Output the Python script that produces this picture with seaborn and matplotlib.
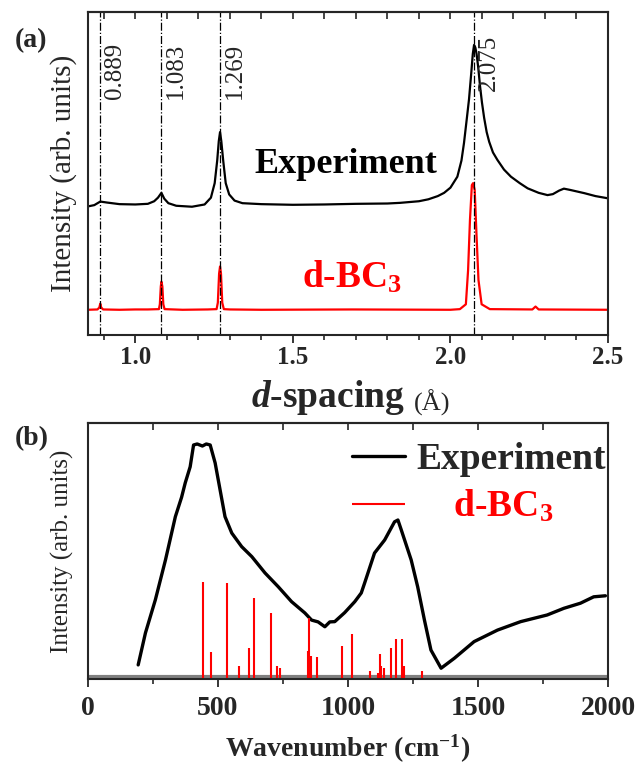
import matplotlib
matplotlib.use("Agg")
import matplotlib.pyplot as plt
from matplotlib.ticker import MultipleLocator, NullLocator
import seaborn as sns
import pandas as pd

# ---- panel (a): XRD, d-spacing ----
d_exp = [0.85, 0.87, 0.889, 0.91, 0.95, 1.0, 1.04, 1.06, 1.072, 1.083, 1.092, 1.105,
         1.13, 1.18, 1.22, 1.24, 1.252, 1.26, 1.265, 1.269, 1.273, 1.279, 1.287, 1.298,
         1.315, 1.34, 1.4, 1.5, 1.6, 1.7, 1.8, 1.84, 1.9, 1.93, 1.96, 1.98, 2.0, 2.022,
         2.035, 2.043, 2.052, 2.059, 2.066, 2.071, 2.075, 2.079, 2.083, 2.088, 2.094, 2.1,
         2.107, 2.115, 2.123, 2.135, 2.149, 2.17, 2.192, 2.22, 2.245, 2.28, 2.308, 2.325,
         2.345, 2.36, 2.38, 2.425, 2.46, 2.5]
i_exp = [0.398, 0.402, 0.413, 0.41, 0.405, 0.404, 0.406, 0.414, 0.425, 0.44, 0.422, 0.408,
         0.4, 0.397, 0.404, 0.425, 0.47, 0.54, 0.6, 0.628, 0.6, 0.54, 0.47, 0.435,
         0.416, 0.408, 0.405, 0.403, 0.404, 0.406, 0.407, 0.409, 0.414, 0.42, 0.43, 0.44,
         0.456, 0.49, 0.54, 0.594, 0.67, 0.73, 0.81, 0.87, 0.898, 0.89, 0.87, 0.83, 0.77,
         0.72, 0.672, 0.628, 0.598, 0.565, 0.542, 0.512, 0.49, 0.47, 0.454, 0.44, 0.433,
         0.436, 0.447, 0.453, 0.449, 0.439, 0.43, 0.423]

d_calc = [0.85, 0.88, 0.886, 0.889, 0.892, 0.898, 0.95, 1.0, 1.04, 1.075, 1.078, 1.081,
          1.083, 1.086, 1.089, 1.093, 1.15, 1.23, 1.258, 1.262, 1.266, 1.269, 1.272, 1.276,
          1.281, 1.3, 1.4, 1.69, 2.0, 2.03, 2.049, 2.056, 2.062, 2.068, 2.072, 2.077,
          2.083, 2.089, 2.099, 2.125, 2.26, 2.27, 2.28, 2.5]
i_calc = [0.078, 0.079, 0.085, 0.097, 0.085, 0.079, 0.078, 0.079, 0.079, 0.08, 0.095, 0.15,
          0.165, 0.15, 0.095, 0.08, 0.078, 0.079, 0.08, 0.1, 0.19, 0.212, 0.19, 0.1,
          0.08, 0.079, 0.078, 0.079, 0.078, 0.08, 0.095, 0.2, 0.356, 0.464, 0.47, 0.449,
          0.304, 0.17, 0.095, 0.08, 0.079, 0.088, 0.079, 0.078]

peak_marks = [0.889, 1.083, 1.269, 2.075]
peak_labels = ["0.889", "1.083", "1.269", "2.075"]

# ---- panel (b): IR, wavenumber ----
wn_exp = [193, 221, 259, 298, 336, 360, 374, 393, 406, 420, 440, 455, 470, 489, 527, 553,
          591, 630, 681, 732, 783, 834, 860, 885, 911, 930, 949, 987, 1026, 1051, 1064,
          1102, 1141, 1179, 1192, 1205, 1243, 1268, 1294, 1319, 1358, 1409, 1485, 1575,
          1664, 1766, 1830, 1894, 1945, 1990]
ir_exp = [0.055, 0.18, 0.309, 0.465, 0.634, 0.71, 0.766, 0.829, 0.914, 0.918, 0.91, 0.918,
          0.914, 0.844, 0.634, 0.57, 0.517, 0.478, 0.414, 0.36, 0.302, 0.258, 0.23, 0.223,
          0.204, 0.223, 0.224, 0.259, 0.302, 0.336, 0.375, 0.492, 0.543, 0.614, 0.621,
          0.582, 0.465, 0.36, 0.23, 0.113, 0.042, 0.081, 0.146, 0.191, 0.224, 0.25, 0.276,
          0.296, 0.321, 0.325]

wn_calc = [441, 473, 536, 582, 621, 639, 702, 728, 738, 847, 851, 856, 879, 977, 1015,
           1085, 1117, 1124, 1128, 1137, 1164, 1185, 1207, 1217, 1284]
ir_calc = [0.38, 0.104, 0.374, 0.052, 0.122, 0.315, 0.259, 0.052, 0.042, 0.11, 0.237, 0.09,
           0.087, 0.13, 0.175, 0.032, 0.023, 0.096, 0.05, 0.043, 0.12, 0.155, 0.155, 0.05,
           0.032]

sns.set_style("ticks")
plt.rcParams['font.family'] = ['Liberation Serif', 'DejaVu Serif']
plt.rcParams['mathtext.fontset'] = 'custom'
plt.rcParams['mathtext.rm'] = 'Liberation Serif:bold'
plt.rcParams['mathtext.bf'] = 'Liberation Serif:bold'
plt.rcParams['mathtext.it'] = 'Liberation Serif:italic:bold'
plt.rcParams['axes.linewidth'] = 1.5

fig = plt.figure(figsize=(6.39, 7.66), dpi=100)
ax1 = fig.add_axes([0.1377, 0.5627, 0.8138, 0.4217])
ax2 = fig.add_axes([0.1377, 0.1136, 0.8138, 0.3342])

# ---------------- (a) ----------------
df_exp = pd.DataFrame({'d': d_exp, 'I': i_exp})
df_calc = pd.DataFrame({'d': d_calc, 'I': i_calc})
sns.lineplot(data=df_exp, x='d', y='I', ax=ax1, color='black', lw=1.6, sort=False)
sns.lineplot(data=df_calc, x='d', y='I', ax=ax1, color='red', lw=1.6, sort=False)

for d, lab in zip(peak_marks, peak_labels):
    ax1.axvline(d, color='black', lw=0.9, ls='-.')
    ytxt = 0.755 if d > 2 else 0.73
    ax1.text(d + 0.047, ytxt, lab, rotation=90, ha='center', va='bottom',
             fontsize=18, fontweight='normal')

ax1.text(1.667, 0.50, "Experiment", ha='center', va='baseline',
         fontsize=26, fontweight='bold', color='black')
ax1.text(1.53, 0.146, "d-BC$_3$", ha='left', va='baseline',
         fontsize=27, fontweight='bold', color='red')

ax1.set_xlim(0.85, 2.5)
ax1.set_ylim(0, 1)
ax1.xaxis.set_major_locator(MultipleLocator(0.5))
ax1.xaxis.set_minor_locator(MultipleLocator(0.1))
ax1.yaxis.set_major_locator(NullLocator())
ax1.tick_params(axis='x', which='major', direction='out', length=6, width=1.3,
                labelsize=18, pad=2)
ax1.tick_params(axis='x', which='minor', direction='out', length=3.5, width=1.2)
for t in ax1.get_xticklabels():
    t.set_fontweight('bold')
top1 = ax1.secondary_xaxis('top')
top1.xaxis.set_major_locator(MultipleLocator(0.1))
top1.tick_params(direction='in', length=5, width=1.2, labeltop=False)
ax1.set_xlabel("")
ax1.set_ylabel("Intensity (arb. units)", fontsize=21, fontweight='normal', labelpad=8)

fig.text(405 / 639, 1 - 407 / 766, "$d$-spacing", ha='right', va='baseline',
         fontsize=27, fontweight='bold')
fig.text(414 / 639, 1 - 411 / 766, "(Å)", ha='left', va='baseline',
         fontsize=19, fontweight='normal')

# ---------------- (b) ----------------
df_ir = pd.DataFrame({'wn': wn_exp, 'I': ir_exp})
sns.lineplot(data=df_ir, x='wn', y='I', ax=ax2, color='black', lw=2.4, sort=False,
             label='Experiment')
ax2.vlines(wn_calc, 0, ir_calc, color='red', lw=1.5, label='    d-BC$_3$')
ax2.axhline(0.007, color='#808080', lw=3, zorder=1)

ax2.set_xlim(0, 2000)
ax2.set_ylim(0, 1)
ax2.xaxis.set_major_locator(MultipleLocator(500))
ax2.xaxis.set_minor_locator(MultipleLocator(250))
ax2.yaxis.set_major_locator(NullLocator())
ax2.tick_params(axis='x', which='major', direction='out', length=6, width=1.3,
                labelsize=20, pad=6)
ax2.tick_params(axis='x', which='minor', direction='out', length=3.5, width=1.2)
for t in ax2.get_xticklabels():
    t.set_fontweight('bold')
top2 = ax2.secondary_xaxis('top')
top2.xaxis.set_major_locator(MultipleLocator(250))
top2.tick_params(direction='in', length=5, width=1.2, labeltop=False)
ax2.set_xlabel("Wavenumber (cm$^{-1}$)", fontsize=20, fontweight='bold', labelpad=9)
ax2.set_ylabel("Intensity (arb. units)", fontsize=18, fontweight='normal', labelpad=10)

leg = ax2.legend(loc='upper right', bbox_to_anchor=(1.01, 0.955), frameon=False,
                 prop={'weight': 'bold', 'size': 27},
                 handlelength=1.4, handletextpad=0.3, labelspacing=0.3,
                 borderaxespad=0, borderpad=0.2)
leg.get_texts()[1].set_color('red')

fig.text(15 / 639, 1 - 47 / 766, "(a)", fontsize=20, fontweight='bold', va='baseline')
fig.text(15 / 639, 1 - 445 / 766, "(b)", fontsize=20, fontweight='bold', va='baseline')

fig.savefig("out.png", dpi=100)
